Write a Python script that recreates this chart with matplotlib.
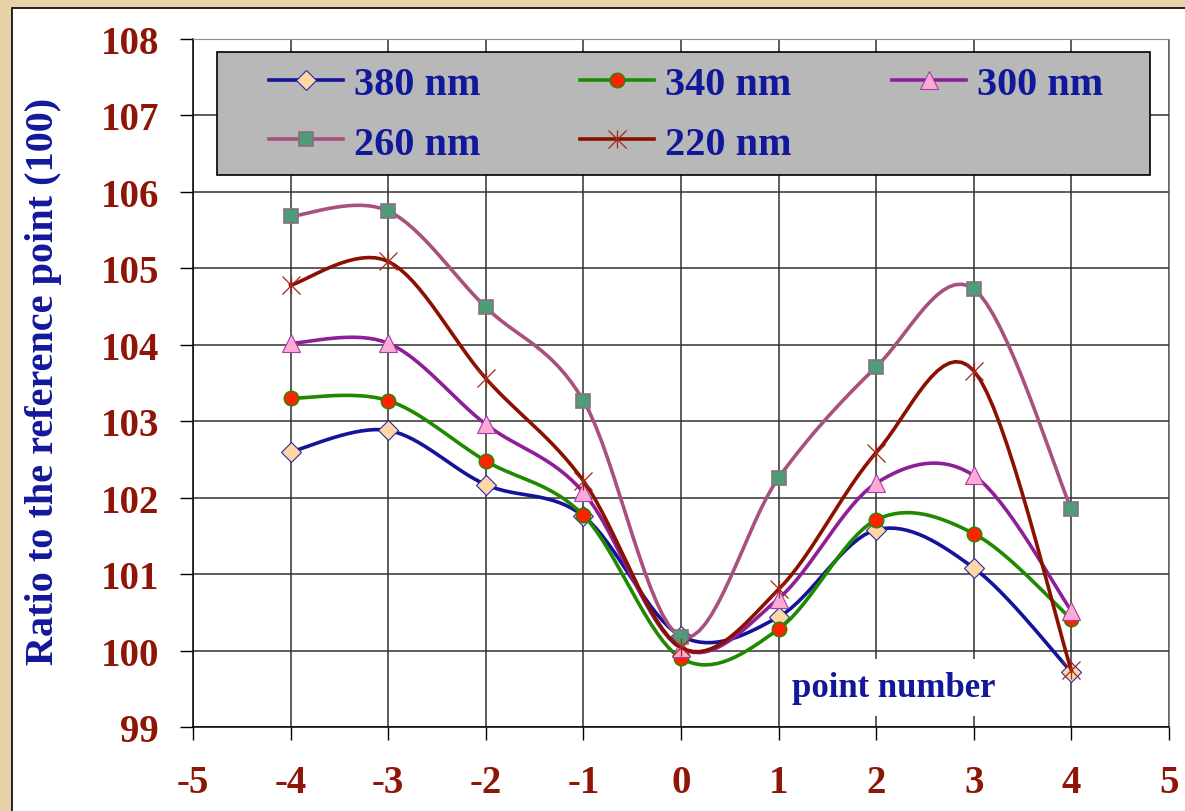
import numpy as np
import matplotlib
matplotlib.use("Agg")
import matplotlib.pyplot as plt
from matplotlib.patches import Rectangle
from matplotlib.path import Path

plt.rcParams['font.family'] = ['Liberation Serif', 'DejaVu Serif']
plt.rcParams['font.weight'] = 'bold'
plt.rcParams['axes.unicode_minus'] = False

W, H = 1185, 812

# point numbers and ratios
points = [-4, -3, -2, -1, 0, 1, 2, 3, 4]
nm380 = [102.60, 102.88, 102.17, 101.76, 100.19, 100.44, 101.58, 101.08, 99.72]
nm340 = [103.30, 103.27, 102.48, 101.77, 99.90, 100.28, 101.71, 101.53, 100.41]
nm300 = [104.02, 104.02, 102.96, 102.07, 100.03, 100.68, 102.19, 102.29, 100.52]
nm260 = [105.68, 105.75, 104.49, 103.27, 100.18, 102.26, 103.71, 104.73, 101.85]
nm220 = [104.78, 105.09, 103.56, 102.22, 100.04, 100.80, 102.59, 103.66, 99.74]
labels = ["380 nm", "340 nm", "300 nm", "260 nm", "220 nm"]

navy = '#12189a'
tick_red = '#8e1606'
STEPS = 16


def smooth(xs, ys, steps=STEPS):
	# bezier smoothing like a spreadsheet "smoothed line"
	xs = np.asarray(xs, float)
	ys = np.asarray(ys, float)
	n = len(xs)
	t = np.linspace(0, 1, steps + 1)[1:]
	ox, oy = [xs[0]], [ys[0]]
	for i in range(n - 1):
		i0 = max(i - 1, 0)
		i3 = min(i + 2, n - 1)
		c1x = xs[i] + (xs[i + 1] - xs[i0]) / 6
		c1y = ys[i] + (ys[i + 1] - ys[i0]) / 6
		c2x = xs[i + 1] - (xs[i3] - xs[i]) / 6
		c2y = ys[i + 1] - (ys[i3] - ys[i]) / 6
		a, b, c, d = (1 - t) ** 3, 3 * (1 - t) ** 2 * t, 3 * (1 - t) * t ** 2, t ** 3
		ox.extend(a * xs[i] + b * c1x + c * c2x + d * xs[i + 1])
		oy.extend(a * ys[i] + b * c1y + c * c2y + d * ys[i + 1])
	return np.array(ox), np.array(oy)


star = Path([(-0.5, -0.5), (0.5, 0.5), (-0.5, 0.5), (0.5, -0.5), (0, -0.5), (0, 0.5)],
			[Path.MOVETO, Path.LINETO, Path.MOVETO, Path.LINETO, Path.MOVETO, Path.LINETO])

styles = [
	dict(color='#14149a', marker='D', ms=10, mfc='#ffd7a6', mec='#2a2aa0', mew=0.8),
	dict(color='#1f8a00', marker='o', ms=10.5, mfc='#ff2200', mec='#1f8a00', mew=1.0),
	dict(color='#8e1f98', marker='^', ms=12.5, mfc='#ffaad6', mec='#a040a8', mew=0.8),
	dict(color='#a8517f', marker='s', ms=10.5, mfc='#4d9e78', mec='#8a7080', mew=1.2),
	dict(color='#8b1000', marker=star, ms=13, mfc='none', mec='#a02818', mew=0.9),
]

fig = plt.figure(figsize=(W / 100, H / 100), dpi=100)
fig.patch.set_facecolor('#e8d3a8')
fig.patches.append(Rectangle((12 / W, -0.1), 1.2, 1 - 9 / H + 0.1, transform=fig.transFigure,
							 facecolor='white', edgecolor='black', lw=1.2, zorder=-1))

ax = fig.add_axes([193 / W, 1 - 728 / H, (1169 - 193) / W, (728 - 40) / H])
ax.set_facecolor('white')
ax.set_xlim(-5, 5)
ax.set_ylim(99, 108)
ax.set_xticks(range(-5, 6))
ax.set_yticks(range(99, 109))
ax.grid(True, color='#303030', lw=1.1)
ax.set_axisbelow(True)
for s in ['top', 'right']:
	ax.spines[s].set_color('#8c8c8c')
for s in ['left', 'bottom']:
	ax.spines[s].set_color('black')
	ax.spines[s].set_linewidth(1.1)
ax.tick_params(direction='out', length=9.5, width=1.0, color='black',
			   labelsize=28, labelcolor=tick_red)
ax.tick_params(axis='y', pad=15)
ax.tick_params(axis='x', pad=17)

lines = []
for vals, lab, st in zip([nm380, nm340, nm300, nm260, nm220], labels, styles):
	sx, sy = smooth(points, vals)
	ln, = ax.plot(sx, sy, lw=2.6, markevery=STEPS, label=lab, zorder=2, **st)
	lines.append(ln)

# gray legend box
ax.add_patch(Rectangle((217 / W, 1 - 176 / H), 933 / W, 123 / H, transform=fig.transFigure,
					   facecolor='#b8b8b8', edgecolor='black', lw=1.2, zorder=4))
order = [0, 3, 1, 4, 2]
leg = ax.legend([lines[i] for i in order], [labels[i] for i in order], ncol=3,
				loc='upper left', bbox_to_anchor=(269 / W, 1 - 67 / H), bbox_transform=fig.transFigure,
				frameon=False, fontsize=29, handlelength=1.84, handletextpad=0.27,
				columnspacing=2.48, labelspacing=0.55, borderpad=0, borderaxespad=0)
leg.set_zorder(5)
for t in leg.get_texts():
	t.set_color(navy)

ax.text(2.18, 99.52, 'point number', ha='center', va='center', fontsize=25, color=navy,
		zorder=3, bbox=dict(boxstyle='square,pad=0.35', facecolor='white', edgecolor='none'))

fig.text(44 / W, 1 - 381 / H, 'Ratio to the reference point (100)', rotation=90,
		 ha='center', va='center', fontsize=29, color=navy)

fig.savefig('out.png', dpi=100, facecolor=fig.get_facecolor())
